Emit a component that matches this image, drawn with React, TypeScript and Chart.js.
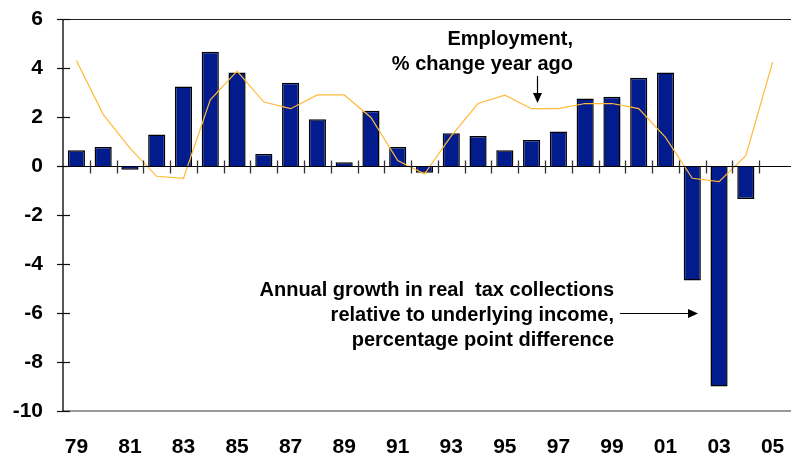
import React, { useEffect, useRef } from "react";
import { Chart, registerables } from "chart.js";

Chart.register(...registerables);

const years = [
  "79", "80", "81", "82", "83", "84", "85", "86", "87", "88", "89", "90", "91", "92",
  "93", "94", "95", "96", "97", "98", "99", "00", "01", "02", "03", "04", "05",
];

const taxGrowth = [
  0.64, 0.78, -0.15, 1.29, 3.25, 4.66, 3.82, 0.49, 3.4, 1.91, 0.15, 2.26, 0.78, -0.28,
  1.34, 1.22, 0.64, 1.06, 1.41, 2.76, 2.83, 3.6, 3.82, -4.67, -9.0, -1.35, null,
];

const employment = [
  4.31, 2.11, 0.73, -0.42, -0.5, 2.7, 3.87, 2.61, 2.34, 2.9, 2.9, 1.98, 0.22, -0.33,
  1.23, 2.55, 2.89, 2.34, 2.34, 2.55, 2.55, 2.34, 1.17, -0.5, -0.64, 0.42, 4.24,
];

const yTicks = [6, 4, 2, 0, -2, -4, -6, -8, -10];

const employmentNote = ["Employment,", "% change year ago"];
const taxNote = [
  "Annual growth in real  tax collections",
  "relative to underlying income,",
  "percentage point difference",
];

const FONT = "'Liberation Sans', Arial, sans-serif";

const decorPlugin = {
  id: "decor",
  afterDatasetsDraw(chart: any) {
    const { ctx, chartArea, scales } = chart;
    const x = scales.x;
    const y = scales.y;
    const W = chart.width;
    ctx.save();
    // top border
    ctx.strokeStyle = "#222";
    ctx.lineWidth = 1.2;
    ctx.beginPath();
    ctx.moveTo(chartArea.left, chartArea.top + 0.5);
    ctx.lineTo(W, chartArea.top + 0.5);
    ctx.stroke();
    // bottom line
    ctx.strokeStyle = "#777";
    ctx.lineWidth = 1.6;
    ctx.beginPath();
    ctx.moveTo(chartArea.left, chartArea.bottom);
    ctx.lineTo(W, chartArea.bottom);
    ctx.stroke();
    // left axis
    ctx.strokeStyle = "#111";
    ctx.lineWidth = 1.4;
    ctx.beginPath();
    ctx.moveTo(chartArea.left, chartArea.top);
    ctx.lineTo(chartArea.left, chartArea.bottom);
    ctx.stroke();
    // y tick marks crossing the axis
    ctx.lineWidth = 1.2;
    for (const v of yTicks) {
      const py = Math.round(y.getPixelForValue(v)) + 0.5;
      ctx.beginPath();
      ctx.moveTo(chartArea.left - 6, py);
      ctx.lineTo(chartArea.left + 7, py);
      ctx.stroke();
    }
    // zero line
    const zy = Math.round(y.getPixelForValue(0)) + 0.5;
    ctx.strokeStyle = "#000";
    ctx.lineWidth = 1.2;
    ctx.beginPath();
    ctx.moveTo(chartArea.left - 6, zy);
    ctx.lineTo(W, zy);
    ctx.stroke();
    // category boundary ticks on zero line
    ctx.strokeStyle = "#333";
    ctx.lineWidth = 1.3;
    for (let i = 0; i < years.length - 1; i++) {
      const px = Math.round((x.getPixelForValue(i) + x.getPixelForValue(i + 1)) / 2) + 0.5;
      ctx.beginPath();
      ctx.moveTo(px, zy - 6);
      ctx.lineTo(px, zy + 7);
      ctx.stroke();
    }
    ctx.restore();
  },
  afterDraw(chart: any) {
    const { ctx } = chart;
    ctx.save();
    ctx.fillStyle = "#000";
    ctx.font = `bold 20px ${FONT}`;
    ctx.textAlign = "right";
    ctx.textBaseline = "middle";
    employmentNote.forEach((t, i) => ctx.fillText(t, 573, 39 + i * 25));
    taxNote.forEach((t, i) => ctx.fillText(t, 614, 290 + i * 25));
    // arrow down
    ctx.strokeStyle = "#000";
    ctx.lineWidth = 1.2;
    ctx.beginPath();
    ctx.moveTo(537.5, 76);
    ctx.lineTo(537.5, 95);
    ctx.stroke();
    ctx.beginPath();
    ctx.moveTo(533, 93);
    ctx.lineTo(542, 93);
    ctx.lineTo(537.5, 103);
    ctx.closePath();
    ctx.fill();
    // arrow right
    ctx.beginPath();
    ctx.moveTo(620, 313.5);
    ctx.lineTo(690, 313.5);
    ctx.stroke();
    ctx.beginPath();
    ctx.moveTo(688, 309);
    ctx.lineTo(688, 318);
    ctx.lineTo(698, 313.5);
    ctx.closePath();
    ctx.fill();
    ctx.restore();
  },
};

export default function App() {
  const ref = useRef<HTMLCanvasElement | null>(null);
  useEffect(() => {
    document.body.style.margin = "0";
    if (!ref.current) return;
    const chart = new Chart(ref.current, {
      type: "bar",
      data: {
        labels: years,
        datasets: [
          {
            type: "line",
            label: "Employment",
            data: employment,
            borderColor: "#FFBA3A",
            borderWidth: 1.2,
            pointRadius: 0,
            tension: 0,
            order: 0,
          } as any,
          {
            type: "bar",
            label: "Tax growth",
            data: taxGrowth,
            backgroundColor: "#021B8D",
            borderColor: "#000",
            borderWidth: 1.5,
            barPercentage: 0.64,
            categoryPercentage: 1,
            order: 1,
          },
        ],
      },
      options: {
        responsive: false,
        animation: false,
        devicePixelRatio: 1,
        layout: { padding: { top: 19, right: 5, left: 0, bottom: 0 } },
        plugins: {
          legend: { display: false },
          tooltip: { enabled: false },
        },
        scales: {
          x: {
            offset: true,
            grid: { display: false, drawTicks: true, tickLength: 24 },
            border: { display: false },
            ticks: {
              autoSkip: false,
              maxRotation: 0,
              minRotation: 0,
              padding: 0,
              color: "#000",
              font: { family: FONT, size: 21, weight: "bold" },
              callback: (_v: any, i: number) => (i % 2 === 0 ? years[i] : ""),
            },
            afterFit: (s: any) => {
              s.height = 47;
            },
          },
          y: {
            min: -10,
            max: 6,
            grid: { display: false, drawTicks: true, tickLength: 20 },
            border: { display: false },
            ticks: {
              stepSize: 2,
              padding: 0,
              color: "#000",
              font: { family: FONT, size: 21, weight: "bold" },
            },
            afterFit: (s: any) => {
              s.width = 63;
            },
          },
        },
      },
      plugins: [decorPlugin],
    });
    return () => chart.destroy();
  }, []);
  return (
    <div style={{ width: 791, height: 458 }}>
      <canvas ref={ref} width={791} height={458} />
    </div>
  );
}
